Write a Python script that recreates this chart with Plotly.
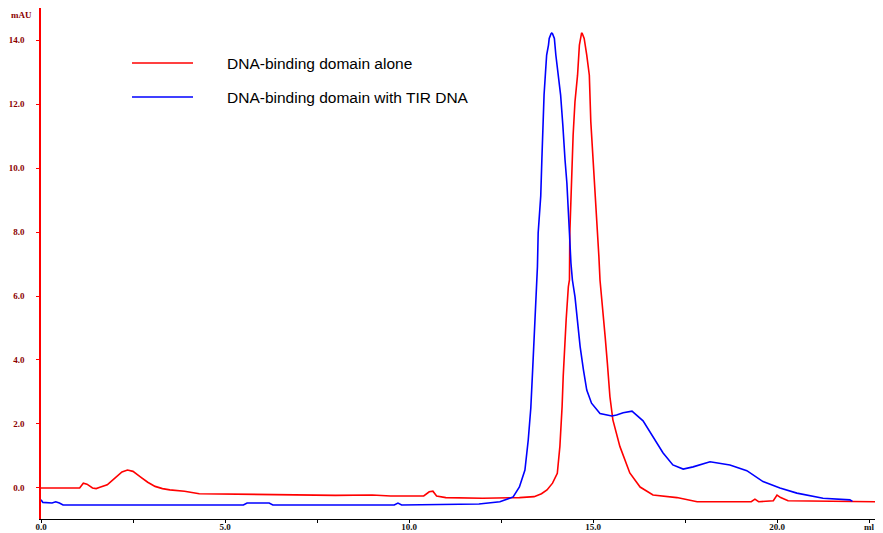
import plotly.graph_objects as go

# Red: DNA-binding domain alone (ml, mAU)
red_ml = [0.0, 0.9, 1.05, 1.15, 1.25, 1.4, 1.5, 1.6, 1.8, 2.0, 2.2, 2.35, 2.5, 2.7, 2.9, 3.1, 3.3, 3.5,
          3.9, 4.3, 6.0, 6.5, 8.0, 9.0, 9.5, 10.4, 10.55, 10.65, 10.75, 11.0, 12.0, 13.0, 13.4, 13.6,
          13.75, 13.9, 14.03, 14.1, 14.15, 14.16, 14.19, 14.22, 14.27, 14.33, 14.36, 14.37, 14.42, 14.46,
          14.51, 14.58, 14.63, 14.67, 14.69, 14.71, 14.76, 14.83, 14.90, 14.94, 14.98, 15.05, 15.12,
          15.16, 15.19, 15.24, 15.33, 15.39, 15.46, 15.54, 15.73, 16.0, 16.28, 16.63, 17.28, 17.83,
          19.3, 19.4, 19.5, 19.9, 20.0, 20.1, 20.3, 22.85]
red_mau = [0.0, -0.02, 0.0, 0.15, 0.12, 0.0, -0.02, 0.02, 0.1, 0.3, 0.5, 0.56, 0.52, 0.35, 0.18, 0.05, -0.02, -0.06,
           -0.1, -0.18, -0.2, -0.22, -0.23, -0.22, -0.25, -0.25, -0.12, -0.1, -0.25, -0.3, -0.32, -0.3, -0.27, -0.18,
           -0.06, 0.15, 0.46, 1.3, 2.13, 2.54, 3.48, 4.21, 5.25, 6.29, 6.5, 7.97, 9.83, 11.03,
           12.07, 12.9, 13.84, 14.2, 14.22, 14.2, 14.05, 13.53, 12.9, 11.45, 10.7, 9.52, 8.17,
           7.23, 6.5, 5.77, 4.73, 3.9, 2.85, 2.13, 1.3, 0.47, 0.03, -0.22, -0.3, -0.43,
           -0.43, -0.35, -0.43, -0.4, -0.22, -0.3, -0.4, -0.43]

# Blue: DNA-binding domain with TIR DNA (ml, mAU)
blue_ml = [0.0, 0.05, 0.3, 0.4, 0.5, 0.6, 5.5, 5.6, 6.2, 6.3, 9.6, 9.7, 9.8, 11.9, 12.47, 12.83, 13.0,
           13.15, 13.24, 13.31, 13.36, 13.40, 13.45, 13.49, 13.51, 13.58, 13.61, 13.63, 13.67, 13.71,
           13.74, 13.79, 13.81, 13.86, 13.88, 13.90, 13.95, 13.99, 14.06, 14.12, 14.18, 14.21, 14.24,
           14.29, 14.33, 14.36, 14.40, 14.44, 14.51, 14.57, 14.65, 14.74, 14.83, 14.96, 15.19, 15.51,
           15.64, 15.82, 16.0, 16.06, 16.36, 16.63, 16.9, 17.17, 17.45, 17.72, 18.18, 18.72,
           19.0, 19.1, 19.18, 19.62, 20.08, 20.54, 20.98, 21.25, 21.98, 22.05]
blue_mau = [-0.37, -0.45, -0.47, -0.43, -0.47, -0.53, -0.53, -0.47, -0.47, -0.53, -0.53, -0.47, -0.53, -0.5, -0.43, -0.28, 0.03,
            0.56, 1.5, 2.5, 3.69, 4.73, 5.67, 6.92, 7.97, 9.13, 10.25, 11.25, 12.28, 13.0,
            13.53, 13.84, 14.05, 14.2, 14.22, 14.2, 14.05, 13.53, 12.9, 12.28, 11.34, 10.7, 10.25,
            9.53, 8.79, 7.97, 7.03, 6.5, 5.98, 5.25, 4.42, 3.69, 3.06, 2.65, 2.33, 2.25,
            2.28, 2.35, 2.38, 2.4, 2.1, 1.6, 1.1, 0.72, 0.59, 0.66, 0.82, 0.72,
            0.62, 0.57, 0.54, 0.2, 0.0, -0.16, -0.27, -0.32, -0.37, -0.42]

x_tickvals = [0, 2.5, 5, 7.5, 10, 12.5, 15, 17.5, 20, 22.5]
x_ticktext = ["0.0", "", "5.0", "", "10.0", "", "15.0", "", "20.0", "ml"]
y_tickvals = [0, 2, 4, 6, 8, 10, 12, 14]
y_ticktext = ["0.0", "2.0", "4.0", "6.0", "8.0", "10.0", "12.0", "14.0"]
series_names = ["DNA-binding domain alone", "DNA-binding domain with TIR DNA"]

# the page body has an 8 px default margin, so the figure is sized to fit the window
OFF = 8
W, H = 875, 525
ML, MR, MT, MB = 33, 1, 0, 14
PW, PH = W - ML - MR, H - MT - MB

def px_x(p):
    return (p - OFF - ML) / PW

def px_y(p):
    return (H - MB - (p - OFF)) / PH

fig = go.Figure()
fig.add_trace(go.Scatter(x=red_ml, y=red_mau, mode="lines", name=series_names[0],
                         line=dict(color="#ff0000", width=1.6), showlegend=False))
fig.add_trace(go.Scatter(x=blue_ml, y=blue_mau, mode="lines", name=series_names[1],
                         line=dict(color="#0000ff", width=1.6), showlegend=False))

# legend drawn manually
for i, (col, py) in enumerate([("#ff0000", 63), ("#0000ff", 97)]):
    fig.add_shape(type="line", xref="paper", yref="paper",
                  x0=px_x(132), x1=px_x(193), y0=px_y(py), y1=px_y(py),
                  line=dict(color=col, width=1.6))
    fig.add_annotation(xref="paper", yref="paper", x=px_x(225), y=px_y(py),
                       text=series_names[i], showarrow=False, xanchor="left", yanchor="middle",
                       font=dict(family="Liberation Sans, Arial, sans-serif", size=15.5, color="#000000"))

fig.add_annotation(xref="paper", yref="paper", x=px_x(21), y=px_y(15), text="<b>mAU</b>", showarrow=False,
                   xanchor="center", yanchor="middle",
                   font=dict(family="Liberation Serif, Times New Roman, serif", size=9, color="#8b0000"))

fig.update_layout(
    width=W, height=H,
    margin=dict(l=ML, r=MR, t=MT, b=MB, pad=0),
    paper_bgcolor="white", plot_bgcolor="white",
    xaxis=dict(range=[0, 22.853], tickvals=x_tickvals, ticktext=x_ticktext, automargin=False,
               showgrid=False, zeroline=False, showline=True, linecolor="#000000", linewidth=1,
               ticks="outside", ticklen=3, tickcolor="#000000", ticklabelstandoff=-4,
               tickfont=dict(family="Liberation Serif, Times New Roman, serif", size=9, color="#111111",
                             weight="bold")),
    yaxis=dict(range=[-0.969, 15.0], tickvals=y_tickvals, ticktext=y_ticktext, automargin=False,
               showgrid=False, zeroline=False, showline=True, linecolor="#ff0000", linewidth=1.5,
               ticks="outside", ticklen=3, tickcolor="#ff0000", ticklabelstandoff=10,
               tickfont=dict(family="Liberation Serif, Times New Roman, serif", size=9, color="#8b0000",
                             weight="bold")),
)

fig.write_html("out.html")
